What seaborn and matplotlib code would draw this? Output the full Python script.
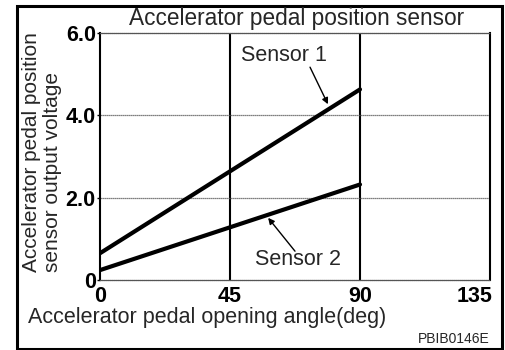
import matplotlib
matplotlib.use("Agg")
import matplotlib.pyplot as plt
import matplotlib.transforms as mtransforms
import numpy as np
import pandas as pd
import seaborn as sns
from matplotlib.patches import Rectangle

# Sensor output voltage versus pedal opening angle
angle_deg = [0, 90]
sensor1_volts = [0.65, 4.63]
sensor2_volts = [0.24, 2.32]
sensor_names = ["Sensor 1", "Sensor 2"]

x_ticks = [0, 45, 90, 135]
x_tick_labels = ["0", "45", "90", "135"]
y_ticks = [0, 2, 4, 6]
y_tick_labels = ["0", "2.0", "4.0", "6.0"]

title_text = "Accelerator pedal position sensor"
x_label = "Accelerator pedal opening angle(deg)"
y_label = "Accelerator pedal position\nsensor output voltage"
figure_code = "PBIB0146E"

sns.set_theme(style="white")
plt.rcParams["font.family"] = ["Liberation Sans", "DejaVu Sans"]

df = pd.DataFrame({
    "angle": angle_deg * 2,
    "voltage": sensor1_volts + sensor2_volts,
    "sensor": [sensor_names[0]] * len(angle_deg) + [sensor_names[1]] * len(angle_deg),
})

W, H = 505, 350
FS = 15.5
fig = plt.figure(figsize=(W / 100, H / 100), dpi=100)
ax = fig.add_axes([100 / W, 70 / H, 390 / W, 247 / H])

# grid: solid black verticals, fine grey dotted horizontals
for xv in x_ticks[1:-1]:
    ax.axvline(xv, color="black", lw=1.5, zorder=1)
for yv in y_ticks[1:-1]:
    ax.axhline(yv, color="#555555", lw=0.9, ls=(0, (1, 0.6)), zorder=1)

sns.lineplot(data=df, x="angle", y="voltage", hue="sensor",
             palette=["black", "black"], lw=3, legend=False, ax=ax, zorder=3)

ax.set_xlim(0, 135)
ax.set_ylim(0, 6)
ax.set_xticks(x_ticks)
ax.set_xticklabels(x_tick_labels, fontsize=FS, fontweight="bold")
ax.set_yticks(y_ticks)
ax.set_yticklabels(y_tick_labels, fontsize=FS, fontweight="bold")
ax.tick_params(axis="x", length=0, pad=4, colors="black")
ax.tick_params(axis="y", length=2, width=1, pad=1, direction="out", colors="black", left=True)
ax.set_xlabel("")
ax.set_ylabel("")

# keep the last angle label inside the frame
last = ax.get_xticklabels()[-1]
last.set_horizontalalignment("right")
last.set_transform(last.get_transform() +
                   mtransforms.ScaledTranslation(3 / 100, 0, fig.dpi_scale_trans))

for side in ("left", "right"):
    ax.spines[side].set_color("black")
    ax.spines[side].set_linewidth(1.5)
for side in ("top", "bottom"):
    ax.spines[side].set_color("#555555")
    ax.spines[side].set_linewidth(0.9)
    ax.spines[side].set_linestyle((0, (1, 0.6)))

# callouts
arrow = dict(arrowstyle="-|>", color="black", lw=1, mutation_scale=9,
             shrinkA=0, shrinkB=0)
ax.text(63.7, 5.46, sensor_names[0], fontsize=FS, ha="center", va="center")
ax.annotate("", xy=(78.9, 4.27), xytext=(72.7, 5.17), arrowprops=arrow)
ax.text(68.5, 0.49, sensor_names[1], fontsize=FS, ha="center", va="center")
ax.annotate("", xy=(58.2, 1.51), xytext=(67.5, 0.70), arrowprops=arrow)

def fx(px):
    return px / W

def fy(py):
    return 1 - py / H

fig.text(fx(297), fy(25), title_text, fontsize=16.3, ha="center", va="baseline")
fig.text(fx(28), fy(323), x_label, fontsize=FS, ha="left", va="baseline")
fig.text(fx(42), fy(152), y_label, fontsize=15, rotation=90, ha="center",
         va="center", multialignment="left", linespacing=1.1)
fig.text(fx(490), fy(343), figure_code, fontsize=10, ha="right", va="baseline")

fig.patches.append(Rectangle((16.5 / W, 1.5 / H), (502 - 16.5) / W, (348.5 - 5.5) / H,
                             transform=fig.transFigure, fill=False,
                             edgecolor="black", lw=2.2))

fig.savefig("out.png", dpi=100)
